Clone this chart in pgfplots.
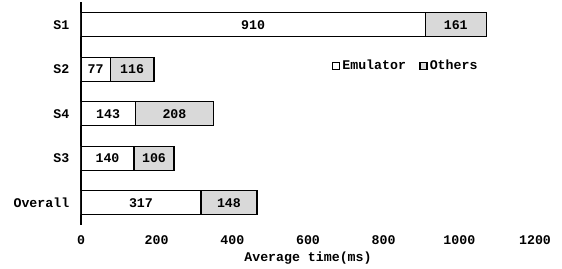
\documentclass[border=0pt]{standalone}
\usepackage{pgfplots}
\pgfplotsset{compat=1.18}
\usepackage{fontspec}
\setmainfont{Liberation Mono}
\begin{document}
\fontsize{13.3}{16}\selectfont\bfseries
\begin{tikzpicture}
\pgfplotsset{
  commonaxis/.style={
    scale only axis, width=454bp, height=222.5bp,
    xmin=0, xmax=1200, ymin=-0.5, ymax=4.5,
  }
}
\begin{axis}[
  name=ax, commonaxis,
  xbar stacked, bar width=24bp,
  axis x line=bottom, axis y line=left,
  x axis line style={draw=none},
  y axis line style={line width=1.5pt, -},
  tick style={draw=none},
  xtick={0,200,...,1200},
  ytick={0,1,2,3,4},
  yticklabels={Overall,S3,S4,S2,S1},
  /pgf/number format/assume math mode=true,
  /pgf/number format/1000 sep={},
  xticklabel style={yshift=-4bp},
  yticklabel style={xshift=-5bp},
  xlabel={Average time(ms)},
  xlabel style={yshift=2bp},
  legend style={draw=none, fill=none, legend columns=2,
    at={(0.552,0.715)}, anchor=west,
    /tikz/every even column/.append style={column sep=11bp},
    inner sep=0pt, outer sep=0pt},
  legend image code/.code={\draw[#1, line width=1.8pt] (0bp,-3.5bp) rectangle (7bp,3.5bp);},
]
\addplot[fill=white, draw=black, line width=1.2pt] coordinates {
  (317,0) (140,1) (143,2) (77,3) (910,4)};
\addlegendentry{Emulator}
\addplot[fill=black!15, draw=black, line width=1.2pt] coordinates {
  (148,0) (106,1) (208,2) (116,3) (161,4)};
\addlegendentry{Others}
\end{axis}
\begin{axis}[commonaxis, hide axis]
\addplot[only marks, mark=none, nodes near coords, point meta=explicit symbolic,
  every node near coord/.append style={anchor=center}]
  table[meta=label] {
x y label
455 4 910
990.5 4 161
38.5 3 77
135 3 116
71.5 2 143
247 2 208
70 1 140
193 1 106
158.5 0 317
391 0 148
};
\end{axis}
\pgfresetboundingbox
\path[use as bounding box] ([xshift=-81bp,yshift=-44bp]ax.south west) rectangle ([xshift=27bp,yshift=2.5bp]ax.north east);
\end{tikzpicture}
\end{document}
